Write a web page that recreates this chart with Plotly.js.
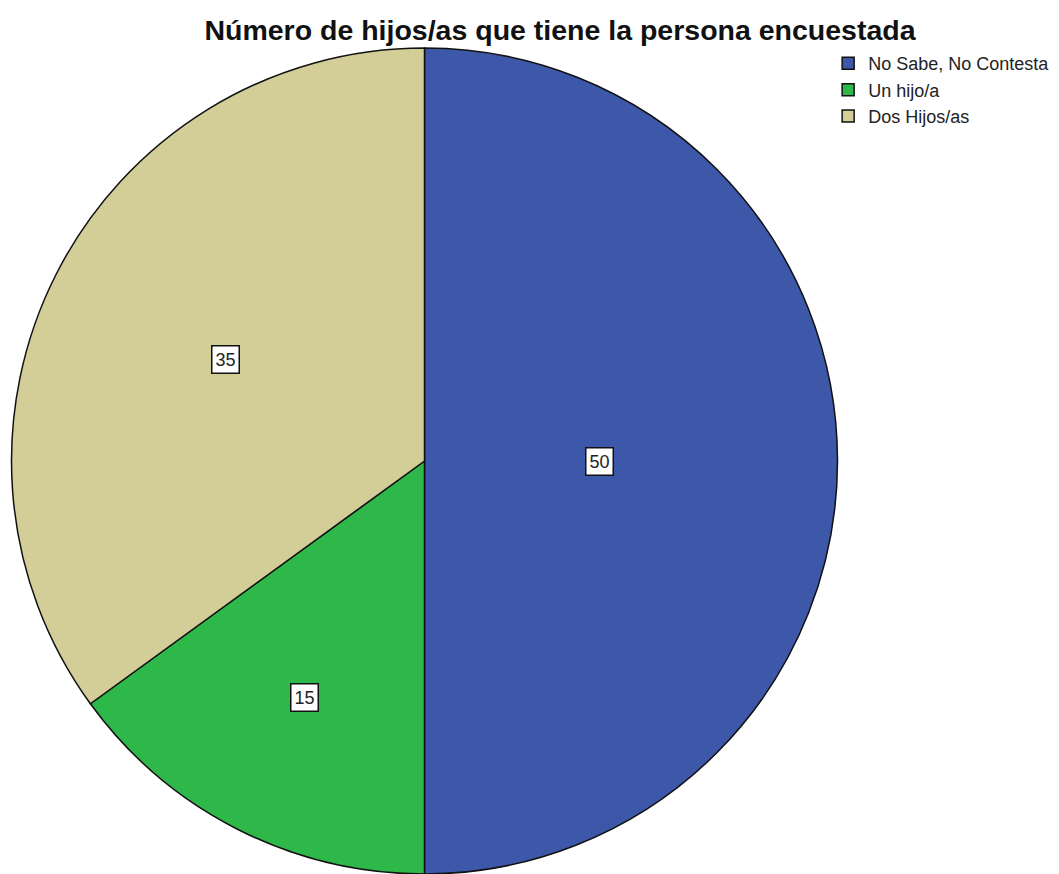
<!DOCTYPE html>
<html><head><meta charset="utf-8">
<script src="https://cdn.plot.ly/plotly-3.0.1.min.js"></script>
<style>html,body{margin:0;padding:0;background:#fff;overflow:hidden}</style>
</head><body><div id="chart" style="width:1059px;height:874px"></div>
<script>
const categories = ["No Sabe, No Contesta", "Un hijo/a", "Dos Hijos/as"];
const values = [50, 15, 35];
const colors = ["#3d57a9", "#2fb84a", "#d3cd98"];
const titleText = "Número de hijos/as que tiene la persona encuestada";

const W = 1059, H = 874;
const M = {l: 0, r: 0, t: 48, b: 0, pad: 0};
const domX = [0, 0.8017], domY = [0, 1];

// geometry of the pie, as Plotly computes it
const plotW = W - M.l - M.r, plotH = H - M.t - M.b;
const R = Math.min(plotW * (domX[1] - domX[0]), plotH * (domY[1] - domY[0])) / 2;
const cx = M.l + plotW * (domX[0] + domX[1]) / 2;
const cy = M.t + plotH * (1 - (domY[0] + domY[1]) / 2);

const total = values.reduce((a, b) => a + b, 0);
let acc = 0;
const annotations = values.map((v, i) => {
  const theta = v / total * 2 * Math.PI;
  const mid = (acc + v / 2) / total * 2 * Math.PI; // clockwise from 12 o'clock
  acc += v;
  const d = R * 4 * Math.sin(theta / 2) / (3 * theta); // wedge centroid
  const px = cx + d * Math.sin(mid);
  const py = cy - d * Math.cos(mid);
  return {
    x: (px - M.l) / plotW, y: 1 - (py - M.t) / plotH,
    xref: 'paper', yref: 'paper', xanchor: 'center', yanchor: 'middle',
    text: String(v), showarrow: false,
    font: {family: 'Liberation Sans, Arial, sans-serif', size: 18, color: '#222'},
    bgcolor: '#ffffff', bordercolor: '#111', borderwidth: 1.5, borderpad: 3
  };
});

const trace = {
  type: 'pie', labels: categories, values: values, sort: false,
  direction: 'clockwise', rotation: 0,
  marker: {colors: colors, line: {color: '#111', width: 1.5}},
  textinfo: 'none', domain: {x: domX, y: domY}, hoverinfo: 'label+value'
};

const layout = {
  width: W, height: H, margin: M,
  paper_bgcolor: '#fff', plot_bgcolor: '#fff',
  title: {text: titleText, x: 560 / W, xanchor: 'center', y: 1 - 30 / H, yanchor: 'middle',
    font: {family: 'Liberation Sans, Arial, sans-serif', size: 28.5, color: '#111', weight: 'bold'}},
  showlegend: true,
  legend: {x: 0.782, xanchor: 'left', y: 1.0035, yanchor: 'top',
    font: {family: 'Liberation Sans, Arial, sans-serif', size: 18, color: '#222'},
    bgcolor: 'rgba(0,0,0,0)', tracegroupgap: 0},
  annotations: annotations
};

Plotly.newPlot('chart', [trace], layout, {displayModeBar: false, staticPlot: true});
</script></body></html>
